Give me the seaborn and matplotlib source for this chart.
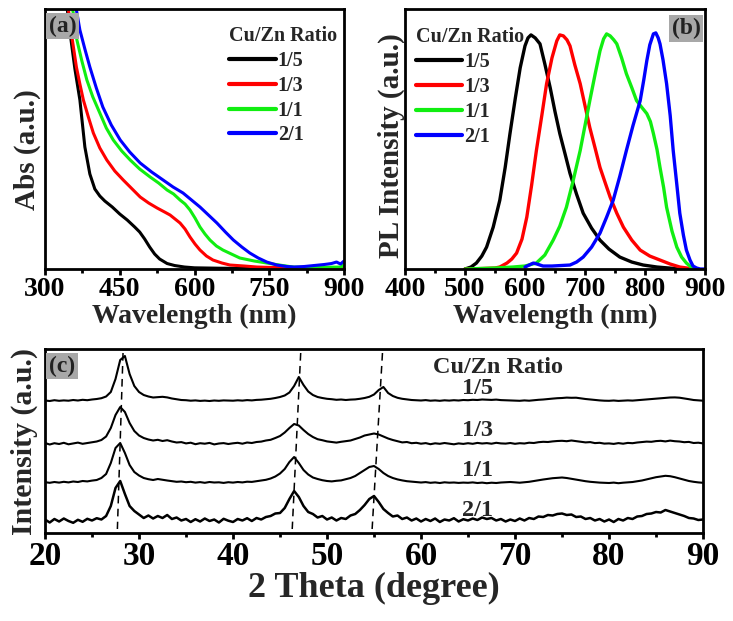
import numpy as np
import pandas as pd
import matplotlib
matplotlib.use("Agg")
import matplotlib.pyplot as plt
from matplotlib.lines import Line2D
from matplotlib.ticker import MultipleLocator
import seaborn as sns

# ---- data ----
ratios = ["1/5", "1/3", "1/1", "2/1"]
colors = ["#000000", "#ff0000", "#11ee11", "#0000ff"]

# (a) absorption spectra (arbitrary units)
abs_wl_15 = [340, 347, 353, 360, 370, 380, 390, 400, 410, 420, 435, 450, 465, 480, 490, 500, 510,
             520, 530, 545, 560, 580, 600, 650, 700, 800, 900]
abs_15 = [280, 250, 226, 200, 169, 122, 95, 80, 73, 68, 62, 55, 49, 42, 37, 30, 22,
          15, 10, 5.5, 3.5, 2, 1.2, 0.8, 0.6, 0.8, 1.5]
abs_wl_13 = [340, 350, 354, 363, 370, 377, 387, 397, 410, 424, 440, 457, 475, 491, 508, 525, 540,
             551, 561, 571, 581, 591, 601, 611, 624, 637, 655, 671, 700, 725, 760, 800, 900]
abs_13 = [285, 248, 232, 202, 185, 169, 152, 136, 121, 109, 98, 89, 80, 72, 66, 61, 57,
          54, 50, 46, 40, 32, 25, 19, 13, 9, 6, 4, 3, 2, 1.5, 1, 1]
abs_wl_11 = [345, 357, 364, 374, 384, 396, 410, 423, 437, 454, 471, 490, 511, 528, 545, 558, 571,
             581, 591, 601, 611, 621, 631, 644, 657, 674, 691, 720, 745, 770, 798, 830, 895, 900]
abs_11 = [290, 255, 229, 208, 189, 172, 156, 141, 129, 118, 109, 100, 92, 86, 79, 75, 69,
          65, 59, 51, 42, 35, 29, 23, 19, 15, 11, 8, 6, 4, 2, 1.5, 2, 6]
abs_wl_21 = [355, 362, 370, 380, 390, 403, 416, 433, 451, 470, 491, 514, 537, 557, 577, 594, 611,
             628, 645, 662, 678, 695, 711, 728, 745, 765, 785, 800, 820, 840, 860, 875, 885, 893, 900]
abs_21 = [290, 262, 239, 220, 202, 181, 162, 144, 129, 117, 106, 97, 89, 82, 76, 69, 62,
          54, 46, 37, 29, 22, 16, 11, 7, 4, 2.5, 2, 2.5, 3.5, 4.5, 5.5, 7, 5, 8]

# (b) PL spectra (arbitrary units)
pl_wl_15 = [500, 510, 519, 528, 536, 547, 558, 567, 575, 584, 592, 600, 605, 610, 617, 625, 633,
            642, 650, 658, 667, 675, 686, 697, 711, 725, 740, 758, 778, 797, 820, 850, 880]
pl_15 = [0, 2, 6, 13, 22, 42, 69, 102, 136, 172, 202, 224, 232, 235, 232, 226, 206,
         182, 158, 136, 115, 96, 75, 56, 41, 29, 20, 12, 7, 4, 2, 0.5, 0]
pl_wl_13 = [500, 530, 550, 558, 570, 578, 586, 595, 603, 611, 619, 628, 636, 645, 653, 658, 664,
            670, 675, 683, 692, 700, 708, 717, 725, 734, 742, 753, 764, 778, 792, 808, 825, 842,
            858, 870, 880]
pl_13 = [0, 0.5, 1, 2, 6, 10, 16, 30, 52, 84, 119, 154, 186, 212, 229, 235, 234,
         230, 224, 205, 186, 164, 142, 121, 102, 86, 72, 56, 42, 29, 19, 13, 9, 5,
         2, 1, 0]
pl_wl_11 = [500, 550, 580, 600, 619, 633, 647, 658, 669, 680, 692, 700, 708, 717, 725, 731, 736,
            742, 748, 753, 761, 769, 778, 786, 795, 803, 809, 814, 820, 825, 831, 836, 845, 853,
            861, 869, 875, 880]
pl_11 = [0, 1, 2, 3, 6, 14, 29, 43, 62, 88, 119, 144, 169, 196, 219, 231, 236,
         234, 230, 226, 212, 196, 182, 169, 162, 156, 148, 136, 120, 102, 82, 62, 38, 22,
         12, 6, 3, 0]
pl_wl_21 = [600, 607, 614, 620, 630, 645, 660, 675, 686, 697, 711, 725, 736, 747, 758, 769, 780,
            792, 798, 803, 808, 814, 818, 822, 825, 830, 836, 842, 847, 853, 858, 864, 869, 875,
            880, 886, 892, 900]
pl_21 = [2, 4, 6, 5, 3, 3, 3.5, 4, 7, 12, 22, 36, 52, 69, 93, 119, 144,
         169, 190, 209, 225, 236, 237, 232, 226, 210, 186, 154, 119, 85, 56, 34, 19, 9,
         3, 1, 0, 0]

# (c) XRD patterns, sampled every 0.5 degree from 20 to 90 (one row = 5 degrees)
theta = np.arange(20, 90.01, 0.5)
xrd_15 = [0.5, 0, 0.8, 0.2, 0.6, 0.3, 1.0, 0.5, 1.2, 0.8,
          1.5, 2.0, 2.8, 4.5, 9, 22, 41, 45, 27, 15,
          9, 6, 4.5, 3.5, 3.8, 4.2, 3.6, 2.5, 1.8, 1.0,
          0.8, 0.3, 0.6, 0.1, 0.4, 0.0, 0.5, 0.2, 0.6, 0.4,
          0.3, 0.7, 0.4, 0.9, 0.6, 1.1, 1.3, 1.8, 2.2, 3.0,
          4.0, 5.5, 8.5, 15, 24, 16, 9.5, 6, 4, 3,
          2.2, 1.8, 1.2, 1.5, 1.0, 1.4, 1.6, 2.2, 3.0, 4.2,
          6.5, 11, 14, 8, 5, 3.2, 2.2, 1.6, 1.0, 0.8,
          0.5, 0.9, 0.3, 0.6, 0.2, 0.7, 0.4, 0.8, 0.5, 1.0,
          0.8, 1.2, 1.0, 1.5, 1.3, 1.1, 1.4, 0.9, 0.7, 0.5,
          0.4, 0.2, 0.6, 0.3, 0.8, 1.2, 1.5, 2.0, 2.4, 2.8,
          3.0, 3.4, 3.2, 3.3, 2.6, 2.0, 1.5, 1.0, 0.6, 0.3,
          0.2, 0.5, 0.1, 0.3, 0.6, 0.4, 0.8, 1.2, 1.6, 2.0,
          2.4, 2.8, 3.2, 3.5, 3.6, 3.3, 2.6, 1.8, 1.0, 0.6,
          0.3]
xrd_13 = [1.0, -0.5, 0.8, 0.0, 1.2, -0.3, 0.6, 1.4, 0.2, 1.0,
          1.8, 2.5, 4.0, 7.5, 16, 29, 37, 32, 21, 13,
          8.5, 6.0, 4.5, 3.5, 4.2, 3.0, 3.8, 2.5, 1.5, 1.9,
          0.6, 1.3, -0.2, 0.8, 0.3, 1.1, -0.4, 0.5, 0.9, 0.0,
          0.7, 1.2, 0.3, 1.5, 1.0, 2.0, 2.4, 3.5, 4.2, 6.0,
          8.0, 11.5, 16, 20, 18.5, 14, 10, 7, 4.8, 3.8,
          2.6, 2.0, 1.4, 2.2, 2.8, 3.5, 5.0, 6.5, 8.5, 9.5,
          10.5, 9.5, 7.5, 5.5, 4.0, 2.8, 1.6, 2.0, 0.8, 1.2,
          0.3, 0.9, -0.2, 0.7, 0.2, 1.0, 0.4, -0.3, 0.6, 0.1,
          0.8, 0.2, 1.1, 0.5, 0.9, 0.3, 1.2, 0.6, 0.4, 1.0,
          0.2, 0.8, 0.5, 1.3, 1.0, 1.8, 2.2, 2.0, 2.6, 3.0,
          3.2, 2.8, 3.5, 2.9, 2.4, 1.6, 1.9, 0.9, 1.2, 0.4,
          0.6, 0.1, 0.9, 0.3, 1.1, 0.8, 1.5, 2.0, 2.4, 2.2,
          2.9, 3.2, 2.6, 3.4, 2.8, 2.5, 1.8, 2.1, 1.0, 1.3,
          0.6]
xrd_11 = [0.8, 0.2, 1.0, 0.4, 1.2, 0.6, 1.5, 1.0, 2.0, 1.6,
          2.4, 3.0, 5.0, 9, 20, 35, 40, 30, 18, 11,
          7.5, 5.0, 3.8, 3.0, 4.0, 3.2, 2.5, 1.8, 1.2, 1.5,
          0.8, 1.2, 0.4, 0.9, 0.2, 1.0, 0.5, 0.7, 0.1, 0.8,
          0.4, 1.0, 0.6, 1.3, 1.1, 1.8, 2.5, 3.2, 4.5, 6.5,
          9.5, 14, 21, 26, 20, 13, 8.5, 5.5, 4.0, 2.8,
          2.0, 1.6, 2.2, 2.6, 3.8, 5.0, 7.0, 10, 13, 16,
          17, 14, 10, 7, 5, 3.6, 2.6, 1.8, 1.4, 0.9,
          0.5, 0.9, 0.2, 0.6, 0.0, 0.7, 0.3, 0.5, 0.1, 0.4,
          0.2, 0.6, 0.0, 0.4, -0.2, 0.3, 0.0, 0.5, 0.7, 1.0,
          0.6, 0.3, 0.8, 1.2, 2.0, 2.8, 3.5, 4.2, 4.8, 5.2,
          5.5, 5.0, 4.2, 3.4, 2.5, 1.8, 1.2, 0.8, 0.4, 0.2,
          0.0, 0.4, -0.2, 0.3, 0.6, 1.0, 1.8, 2.5, 3.6, 4.8,
          5.8, 6.5, 7.2, 6.8, 5.8, 4.5, 3.2, 2.0, 1.2, 0.6,
          0.2]
xrd_21 = [1.5, -1.5, 2.0, -0.5, 2.5, 0.0, -1.8, 1.2, -0.8, 2.2,
          0.5, 2.8, 1.5, 5.0, 15, 33, 40, 27, 15, 10,
          6.5, 3.0, 5.5, 2.5, 5.0, 3.0, 6.0, 2.0, 3.5, 0.5,
          2.0, -1.0, 1.8, -0.5, 2.5, 0.0, 1.5, -1.5, 2.2, 0.3,
          -1.0, 2.0, 0.5, 2.8, 0.0, 3.0, 1.5, 4.0, 5.0, 7.5,
          8.0, 13, 22, 30, 24, 15, 9, 7, 3.5, 5.0,
          1.5, 3.5, 0.5, 3.0, 2.0, 5.5, 7.0, 11, 16, 22,
          25, 19, 12, 8, 4.5, 5.5, 2.0, 3.5, 0.5, 2.5,
          -0.5, 2.0, 0.0, 2.5, -1.0, 1.5, 0.5, 2.8, -0.5, 1.8,
          0.5, 2.5, 1.0, 3.5, 2.0, 3.0, 0.5, 2.0, -0.5, 1.5,
          0.0, 2.5, 0.5, 3.0, 2.0, 4.5, 4.0, 6.0, 5.5, 7.0,
          7.5, 6.0, 6.5, 4.0, 4.5, 2.0, 3.0, 0.5, 2.0, -0.5,
          1.5, -1.0, 2.0, 0.5, 3.0, 2.0, 4.5, 5.0, 7.0, 7.5,
          9.0, 8.5, 11, 9.5, 8.0, 6.5, 5.0, 3.0, 2.5, 1.0,
          1.5]
xrd_offsets = [132, 89, 50, 12]
xrd_widths = [1.5, 1.5, 1.5, 1.8]
xrd_label_y = [145, 103, 63, 23]

# guide lines for the three main reflections (top theta, bottom theta)
guide_top = [28.3, 47.2, 55.9]
guide_bottom = [27.7, 46.3, 54.8]

# ---- style ----
sns.set_theme(style="white")
plt.rcParams["font.family"] = ["Liberation Serif", "DejaVu Serif"]
plt.rcParams["font.weight"] = "bold"
plt.rcParams["axes.labelweight"] = "bold"
plt.rcParams["axes.edgecolor"] = "black"

fig = plt.figure(figsize=(7.33, 6.21), dpi=100)
ax_a = fig.add_axes([0.0614, 0.5668, 0.4079, 0.4187])
ax_b = fig.add_axes([0.5525, 0.5668, 0.4093, 0.4187])
ax_c = fig.add_axes([0.0614, 0.1417, 0.8977, 0.2963])


def style_axis(ax, tick_size):
    for sp in ax.spines.values():
        sp.set_linewidth(2)
        sp.set_color("black")
    ax.tick_params(axis="x", which="both", direction="out", bottom=True, top=False,
                   width=2, labelsize=tick_size, pad=2, colors="black")
    ax.tick_params(axis="x", which="major", length=4)
    ax.tick_params(axis="x", which="minor", length=3)
    ax.tick_params(axis="y", which="both", left=False, right=False, labelleft=False)
    for lab in ax.get_xticklabels():
        lab.set_fontweight("bold")


def panel_tag(ax, text, x, y, ha):
    ax.text(x, y, text, transform=ax.transAxes, ha=ha, va="top", fontsize=17,
            fontweight="bold", color="#222222", zorder=5,
            bbox=dict(boxstyle="square,pad=0.12", fc="#a8a8a8", ec="none"))


handles = [Line2D([], [], color=c, lw=3) for c in colors]
legend_kw = dict(title="Cu/Zn Ratio", loc="upper left", frameon=False, fontsize=14.5,
                 title_fontproperties={"weight": "bold", "size": 14.5},
                 handlelength=2.3, handletextpad=0.1, labelspacing=0.24,
                 borderaxespad=0, alignment="left")

# ---- (a) absorption ----
abs_df = pd.concat([
    pd.DataFrame({"wl": w, "val": v, "ratio": r})
    for w, v, r in zip([abs_wl_15, abs_wl_13, abs_wl_11, abs_wl_21],
                       [abs_15, abs_13, abs_11, abs_21], ratios)
])
sns.lineplot(data=abs_df, x="wl", y="val", hue="ratio", hue_order=ratios,
             palette=colors, lw=2.2, ax=ax_a, legend=False)
ax_a.set_xlim(300, 900)
ax_a.set_ylim(0, 260)
ax_a.xaxis.set_major_locator(MultipleLocator(150))
ax_a.xaxis.set_minor_locator(MultipleLocator(75))
ax_a.set_xlabel("Wavelength (nm)", fontsize=20, labelpad=1)
ax_a.set_ylabel("Abs (a.u.)", fontsize=21, labelpad=3)
ax_a.yaxis.label.set_y(0.46)
style_axis(ax_a, 20)
ax_a.legend(handles, ratios, bbox_to_anchor=(0.59, 0.965), **legend_kw)
panel_tag(ax_a, "(a)", 0.012, 0.975, "left")

# ---- (b) PL ----
pl_df = pd.concat([
    pd.DataFrame({"wl": w, "val": v, "ratio": r})
    for w, v, r in zip([pl_wl_15, pl_wl_13, pl_wl_11, pl_wl_21],
                       [pl_15, pl_13, pl_11, pl_21], ratios)
])
sns.lineplot(data=pl_df, x="wl", y="val", hue="ratio", hue_order=ratios,
             palette=colors, lw=2.4, ax=ax_b, legend=False)
ax_b.set_xlim(400, 900)
ax_b.set_ylim(0, 261)
ax_b.xaxis.set_major_locator(MultipleLocator(100))
ax_b.xaxis.set_minor_locator(MultipleLocator(50))
ax_b.set_xlabel("Wavelength (nm)", fontsize=20, labelpad=1)
ax_b.set_ylabel("PL Intensity (a.u.)", fontsize=21, labelpad=0)
ax_b.yaxis.label.set_y(0.475)
style_axis(ax_b, 20)
ax_b.legend(handles, ratios, bbox_to_anchor=(0.01, 0.96), **legend_kw)
panel_tag(ax_b, "(b)", 0.985, 0.965, "right")

# ---- (c) XRD ----
for vals, off, w in zip([xrd_15, xrd_13, xrd_11, xrd_21], xrd_offsets, xrd_widths):
    assert len(vals) == len(theta)
    sns.lineplot(x=theta, y=np.asarray(vals) + off, color="black", lw=w, ax=ax_c)
for t0, t1 in zip(guide_top, guide_bottom):
    ax_c.plot([t0, t1], [180, 4], color="black", lw=1.1, ls=(0, (5, 3.5)))
ax_c.text(68.2, 166, "Cu/Zn Ratio", ha="center", va="center", fontsize=17.5, fontweight="bold")
for r, ly in zip(ratios, xrd_label_y):
    ax_c.text(66.0, ly, r, ha="center", va="center", fontsize=17.5, fontweight="bold")
ax_c.set_xlim(20, 90)
ax_c.set_ylim(0, 184)
ax_c.xaxis.set_major_locator(MultipleLocator(10))
ax_c.xaxis.set_minor_locator(MultipleLocator(5))
ax_c.set_xlabel("2 Theta (degree)", fontsize=26, labelpad=0)
ax_c.set_ylabel("Intensity (a.u.)", fontsize=21.5, labelpad=5)
style_axis(ax_c, 24)
panel_tag(ax_c, "(c)", 0.006, 0.965, "left")

fig.savefig("out.png", dpi=100)
